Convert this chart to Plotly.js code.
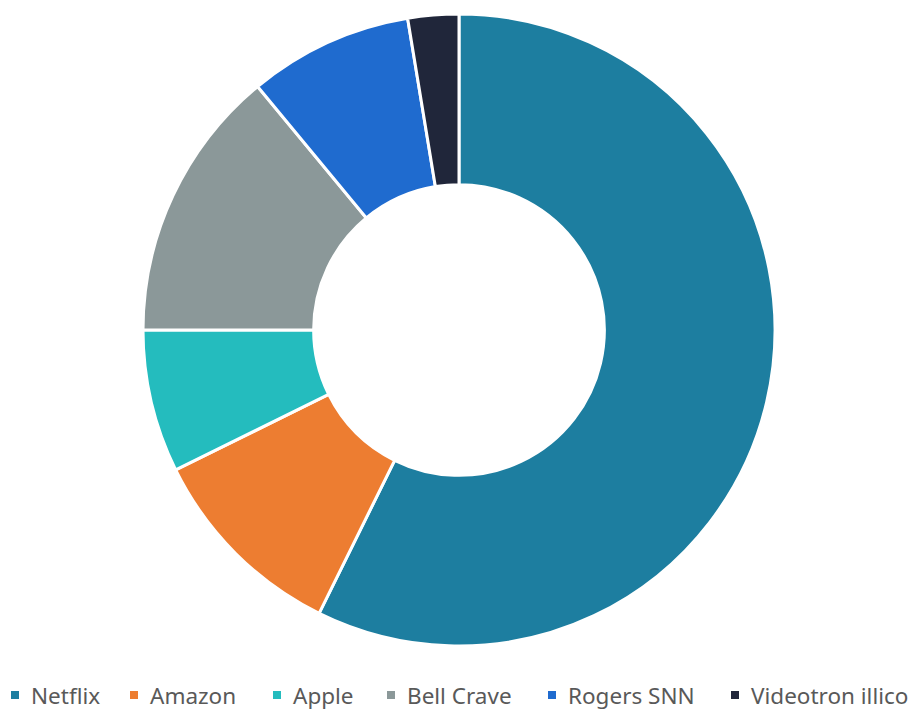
<!DOCTYPE html>
<html>
<head>
<meta charset="utf-8">
<script src="https://cdn.plot.ly/plotly-3.0.1.min.js"></script>
<style>
  html, body { margin: 0; padding: 0; background: #ffffff; }
  #chart { width: 917px; height: 710px; }
</style>
</head>
<body>
<div id="chart"></div>
<script>
// Share of subscribers by streaming service
const services = ['Netflix', 'Amazon', 'Apple', 'Bell Crave', 'Rogers SNN', 'Videotron illico'];
const shares = [57.3, 10.4, 7.3, 14.0, 8.4, 2.6];
const colors = ['#1D7EA0', '#ED7D31', '#24BCBE', '#8B9899', '#1F6BCF', '#20263A'];

// where each legend label starts (pixels from left)
const legendTextX = [29, 148, 291, 405, 566, 749];

const W = 917, H = 710;
const legendY = 695;

const trace = {
    type: 'pie',
    labels: services,
    values: shares,
    hole: 0.46,
    sort: false,
    direction: 'clockwise',
    rotation: 0,
    textinfo: 'none',
    hoverinfo: 'label+percent',
    marker: {
        colors: colors,
        line: { color: '#ffffff', width: 3 }
    },
    domain: {
        x: [(459 - 316) / W, (459 + 316) / W],
        y: [(H - 646) / H, (H - 14) / H]
    },
    showlegend: false
};

// hand made legend so it stays on one row like the original
const annotations = services.map((name, i) => ({
    xref: 'paper', yref: 'paper',
    x: legendTextX[i] / W, y: (H - legendY) / H,
    xanchor: 'left', yanchor: 'middle',
    text: name,
    showarrow: false,
    font: { family: 'Noto Sans, sans-serif', size: 22.5, color: '#595959' }
}));

const shapes = services.map((name, i) => ({
    type: 'rect',
    xref: 'paper', yref: 'paper',
    x0: (legendTextX[i] - 18) / W, x1: (legendTextX[i] - 10) / W,
    y0: (H - legendY - 4) / H, y1: (H - legendY + 4) / H,
    fillcolor: colors[i],
    line: { width: 0 }
}));

const layout = {
    width: W,
    height: H,
    margin: { l: 0, r: 0, t: 0, b: 0 },
    paper_bgcolor: '#ffffff',
    plot_bgcolor: '#ffffff',
    showlegend: false,
    annotations: annotations,
    shapes: shapes
};

Plotly.newPlot('chart', [trace], layout, { displayModeBar: false, staticPlot: true });
</script>
</body>
</html>
